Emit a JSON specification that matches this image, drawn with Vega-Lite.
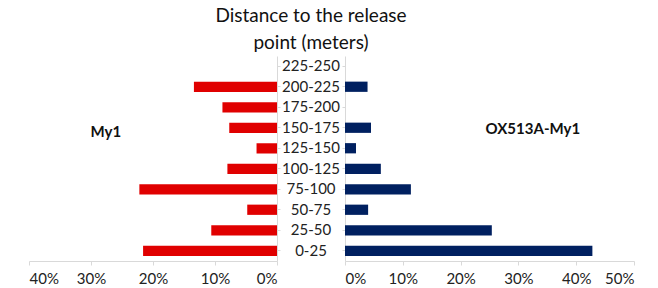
{
  "$schema": "https://vega.github.io/schema/vega-lite/v6.json",
  "padding": {"left": 28, "top": 7, "right": 8, "bottom": 2},
  "background": "white",
  "config": {
    "view": {"stroke": null},
    "font": "Lato",
    "axis": {"domainColor": "#d9d9d9", "tickColor": "#d9d9d9", "labelColor": "#222", "labelFontSize": 15, "labelFont": "Lato", "grid": false, "tickSize": 4}
  },
  "datasets": {
    "bars": [
      {"bin": "0-25", "My1": 0.216, "OX": 0.428},
      {"bin": "25-50", "My1": 0.106, "OX": 0.254},
      {"bin": "50-75", "My1": 0.048, "OX": 0.040},
      {"bin": "75-100", "My1": 0.222, "OX": 0.114},
      {"bin": "100-125", "My1": 0.080, "OX": 0.062},
      {"bin": "125-150", "My1": 0.033, "OX": 0.019},
      {"bin": "150-175", "My1": 0.077, "OX": 0.045},
      {"bin": "175-200", "My1": 0.088, "OX": 0.0},
      {"bin": "200-225", "My1": 0.134, "OX": 0.039},
      {"bin": "225-250", "My1": 0.0, "OX": 0.0}
    ],
    "labelsL": [{"label": "My1", "pos": 0.276, "bin": "150-175"}],
    "labelsR": [{"label": "OX513A-My1", "pos": 0.325, "bin": "150-175"}]
  },
  "hconcat": [
    {
      "width": 248, "height": 205,
      "layer": [
        {
          "data": {"name": "bars"},
          "mark": {"type": "bar", "color": "#e00000"},
          "encoding": {
            "y": {"field": "bin", "type": "nominal", "scale": {"domain": ["225-250","200-225","175-200","150-175","125-150","100-125","75-100","50-75","25-50","0-25"], "paddingInner": 0.5, "paddingOuter": 0.25}, "axis": {"orient": "right", "labels": false, "title": null, "ticks": true, "tickSize": 3}},
            "x": {"field": "My1", "type": "quantitative", "scale": {"domain": [0, 0.4], "reverse": true}, "axis": {"format": ".0%", "values": [0, 0.1, 0.2, 0.3, 0.4], "title": null, "labelPadding": 6}}
          }
        },
        {
          "data": {"name": "labelsL"},
          "mark": {"type": "text", "fontWeight": "bold", "fontSize": 15, "font": "Lato", "color": "#111", "dy": 4},
          "encoding": {
            "text": {"field": "label"},
            "x": {"field": "pos", "type": "quantitative"},
            "y": {"field": "bin", "type": "nominal"}
          }
        }
      ]
    },
    {
      "width": 68, "height": 205,
      "title": {"text": ["Distance to the release", "point (meters)"], "fontSize": 19, "font": "Lato", "fontWeight": "normal", "color": "#111", "anchor": "middle", "lineHeight": 27, "offset": 3},
      "data": {"name": "bars"},
      "mark": {"type": "text", "fontSize": 15, "font": "Lato", "color": "#222"},
      "encoding": {
        "text": {"field": "bin"},
        "y": {"field": "bin", "type": "nominal", "scale": {"domain": ["225-250","200-225","175-200","150-175","125-150","100-125","75-100","50-75","25-50","0-25"], "paddingInner": 0.5, "paddingOuter": 0.25}, "axis": null}
      }
    },
    {
      "width": 289, "height": 205,
      "layer": [
        {
          "data": {"name": "bars"},
          "mark": {"type": "bar", "color": "#002060"},
          "encoding": {
            "y": {"field": "bin", "type": "nominal", "scale": {"domain": ["225-250","200-225","175-200","150-175","125-150","100-125","75-100","50-75","25-50","0-25"], "paddingInner": 0.5, "paddingOuter": 0.25}, "axis": {"orient": "left", "labels": false, "title": null, "ticks": true, "tickSize": 3}},
            "x": {"field": "OX", "type": "quantitative", "scale": {"domain": [0, 0.5]}, "axis": {"format": ".0%", "values": [0, 0.1, 0.2, 0.3, 0.4, 0.5], "title": null, "labelPadding": 6}}
          }
        },
        {
          "data": {"name": "labelsR"},
          "mark": {"type": "text", "fontWeight": "bold", "fontSize": 15, "font": "Lato", "color": "#111", "dy": 1},
          "encoding": {
            "text": {"field": "label"},
            "x": {"field": "pos", "type": "quantitative"},
            "y": {"field": "bin", "type": "nominal"}
          }
        }
      ]
    }
  ],
  "spacing": 0,
  "bounds": "flush"
}
